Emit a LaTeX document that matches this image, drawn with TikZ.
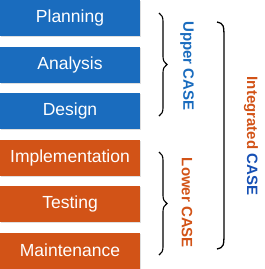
\documentclass[tikz,border=0pt]{standalone}
\usepackage{fontspec}
\setmainfont{Liberation Sans}
\usepackage{xcolor}
\usepackage{tikz}
\usetikzlibrary{positioning, shadows, decorations.pathreplacing}

\definecolor{caseblue}{HTML}{1A6CBE}
\definecolor{caseorange}{HTML}{D25317}
\definecolor{casedark}{HTML}{1650B4}

\tikzset{
    phase/.style={rectangle, minimum width=140pt, minimum height=36pt, inner sep=0pt,
        text=white, font=\fontsize{17.5}{20}\selectfont,
        drop shadow={shadow xshift=0.8pt, shadow yshift=-1.2pt, opacity=0.25}},
    curly/.style={decorate, decoration={brace, amplitude=8pt}, line width=1.1pt},
    tag/.style={rotate=-90, font=\bfseries\fontsize{15}{18}\selectfont}
}

\begin{document}
\begin{tikzpicture}[x=1pt, y=-1pt]
    \useasboundingbox (0,0) rectangle (265,269);
    \foreach \i/\t/\c in {1/Planning/caseblue,2/Analysis/caseblue,3/Design/caseblue,
        4/Implementation/caseorange,5/Testing/caseorange,6/Maintenance/caseorange} {
        \node[phase, fill=\c] (p\i) at (70,{18+46.5*(\i-1)}) {\t};
    }
    % braces
    \coordinate (ut) at (159,13);
    \coordinate (ub) at (159,116);
    \coordinate (lt) at (159,152);
    \coordinate (lb) at (159,255);
    \draw[curly] (ut) -- (ub);
    \draw[curly] (lt) -- (lb);
    \coordinate (it) at (217,22);
    \coordinate (ib) at (217,249);
    \draw[line width=1.3pt] (it) .. controls (224,24) .. (224,42) -- (224,229)
        .. controls (224,247) .. (ib);
    \node[tag, text=caseblue] (upper) at (187,66) {Upper CASE};
    \node[tag, text=caseorange] (lower) at (187,203) {Lower CASE};
    \node[tag] (integ) at (251,136) {\textcolor{caseorange}{Integrated} \textcolor{casedark}{CASE}};
\end{tikzpicture}
\end{document}
